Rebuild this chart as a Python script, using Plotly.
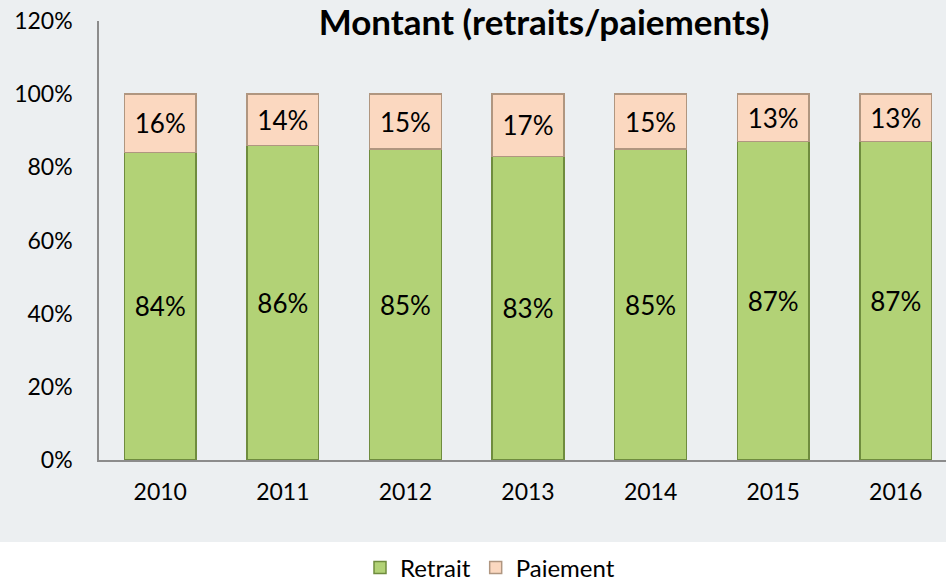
import plotly.graph_objects as go

years = ["2010", "2011", "2012", "2013", "2014", "2015", "2016"]
retrait = [84, 86, 85, 83, 85, 87, 87]
paiement = [16, 14, 15, 17, 15, 13, 13]

FONT = "Lato, Carlito, Calibri, sans-serif"
BG = "#ECEFF1"

fig = go.Figure()
fig.add_trace(go.Bar(
    x=years, y=retrait, name="Retrait",
    marker=dict(color="#B2D276", line=dict(color="#6F8C3E", width=1.5)),
    text=[f"{v}%" for v in retrait], textposition="inside", insidetextanchor="middle",
    textfont=dict(size=26, color="black", family=FONT),
    width=0.585,
))
fig.add_trace(go.Bar(
    x=years, y=paiement, name="Paiement",
    marker=dict(color="#FBD8C0", line=dict(color="#B09680", width=1.5)),
    text=[f"{v}%" for v in paiement], textposition="inside", insidetextanchor="middle",
    textfont=dict(size=26, color="black", family=FONT),
    width=0.585,
))

W, H = 946, 583
L, R, T, B = 99, 0, 21, 123
ph = H - T - B

fig.update_layout(
    width=W, height=H,
    barmode="stack",
    margin=dict(l=L, r=R, t=T, b=B, pad=0, autoexpand=False),
    paper_bgcolor=BG, plot_bgcolor=BG,
    font=dict(family=FONT, size=23, color="black"),
    title=dict(text="<b>Montant (retraits/paiements)</b>", x=544 / W, xanchor="center",
               y=1 - 23 / H, yanchor="middle", font=dict(size=35, family=FONT, color="black")),
    showlegend=True,
    legend=dict(orientation="h", x=(490 - L) / (W - L - R), xanchor="center",
                y=(T + ph - 568) / ph, yanchor="middle", font=dict(size=24),
                bgcolor="rgba(0,0,0,0)", itemwidth=30, traceorder="normal"),
    uniformtext=dict(mode=False),
    shapes=[dict(type="rect", xref="paper", yref="paper", x0=-L / (W - L) - 0.01, x1=1.01,
                 y0=-B / ph - 0.02, y1=-(542 - T - ph) / ph,
                 fillcolor="white", line=dict(width=0), layer="below")],
)
fig.update_xaxes(
    type="category", range=[-0.5, 6.41], automargin=False,
    showline=True, linecolor="#8C8C8C", linewidth=2,
    ticks="outside", ticklen=10, tickcolor="rgba(0,0,0,0)",
    showgrid=False, tickfont=dict(size=23),
)
fig.update_yaxes(
    range=[0, 120], dtick=20, ticksuffix="%", automargin=False,
    showline=True, linecolor="#8C8C8C", linewidth=1.5,
    ticks="outside", ticklen=20, tickcolor="rgba(0,0,0,0)",
    showgrid=False, zeroline=False, tickfont=dict(size=23),
)

fig.write_html("out.html", config={"displayModeBar": False},
               post_script="document.body.style.margin='0';document.body.style.padding='0';")
